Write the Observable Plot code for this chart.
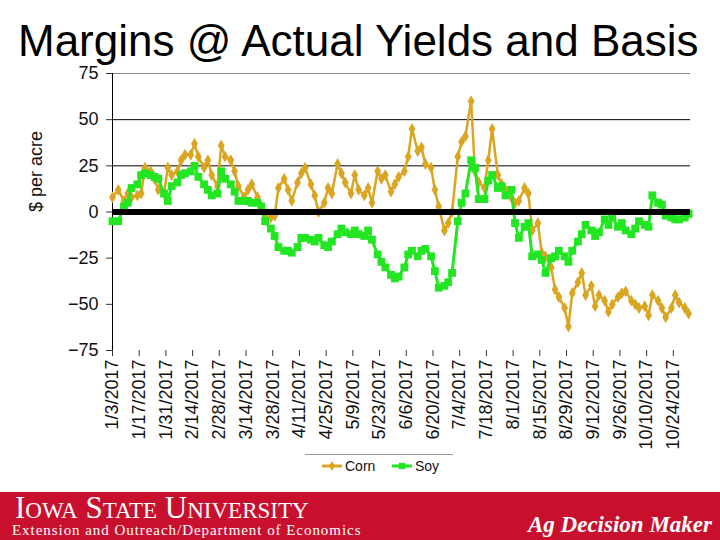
<!DOCTYPE html>
<html>
<head>
<meta charset="utf-8">
<script src="https://cdn.jsdelivr.net/npm/d3@7"></script>
<script src="https://cdn.jsdelivr.net/npm/@observablehq/plot@0.6"></script>
<style>
  html, body { margin: 0; padding: 0; background: #fff; }
  #page { width: 720px; height: 540px; position: relative; overflow: hidden; font-family: "Liberation Sans", Arial, sans-serif; }
  #title { height: 62px; box-sizing: border-box; padding-top: 19px; padding-left: 18px; font-size: 44px; line-height: 43px; color: #000; white-space: nowrap; }
  #chart svg { display: block; }
  #legend { height: 42px; position: relative; }
  #footer { height: 48px; background: #C8102E; position: relative; color: #fff; font-family: "Liberation Serif", "Times New Roman", serif; }
</style>
</head>
<body>
<div id="page">
  <div id="title">Margins @ Actual Yields and Basis</div>
  <div id="chart"></div>
  <div id="legend"></div>
  <div id="footer">
    <div style="position:absolute;left:15px;top:2px;height:27px;white-space:nowrap;line-height:27px;">
      <span style="font-size:31px">I</span><span style="font-size:23px">OWA</span><span style="font-size:31px"> S</span><span style="font-size:23px">TATE</span><span style="font-size:31px"> U</span><span style="font-size:23px">NIVERSITY</span>
    </div>
    <div style="position:absolute;left:12px;top:31px;height:15px;font-size:15px;letter-spacing:0.95px;white-space:nowrap;line-height:15px;">Extension and Outreach/Department of Economics</div>
    <div style="position:absolute;left:528px;top:21px;font-size:23px;font-style:italic;font-weight:bold;white-space:nowrap;line-height:23px;">Ag Decision Maker</div>
  </div>
</div>
<script>
// ---- data ----
const dates = [
  "1/3","1/6","1/9","1/11","1/13","1/16","1/18","1/20","1/23","1/25","1/27","1/30",
  "2/1","2/3","2/6","2/8","2/10","2/13","2/15","2/17","2/20","2/22","2/24","2/27",
  "3/1","3/3","3/6","3/8","3/10","3/13","3/15","3/17","3/20","3/22","3/24","3/27","3/29","3/31",
  "4/3","4/5","4/7","4/10","4/12","4/14","4/17","4/19","4/21","4/24","4/26","4/28",
  "5/1","5/3","5/5","5/8","5/10","5/12","5/15","5/17","5/19","5/22","5/24","5/26","5/29","5/31",
  "6/2","6/5","6/7","6/9","6/12","6/14","6/16","6/19","6/21","6/23","6/26","6/28","6/30",
  "7/3","7/5","7/7","7/10","7/12","7/14","7/17","7/19","7/21","7/24","7/26","7/28","7/31",
  "8/2","8/4","8/7","8/9","8/11","8/14","8/16","8/18","8/21","8/23","8/25","8/28","8/30",
  "9/1","9/4","9/6","9/8","9/11","9/13","9/15","9/18","9/20","9/22","9/25","9/27","9/29",
  "10/2","10/4","10/6","10/9","10/11","10/13","10/16","10/18","10/20","10/23","10/25","10/27","10/30",
  "11/1"
];
const corn = [
  8, 12, 6, 10, 8, 9, 10, 24, 22, 18, 12, 10,
  24, 20, 22, 28, 31, 31, 37, 30, 24, 28, 20, 14,
  36, 30, 28, 22, 14, 8, 12, 15, 8, 3, -2, -3, -2, 13,
  18, 12, 6, 16, 21, 24, 15, 9, 0, 5, 13, 10,
  26, 21, 16, 10, 20, 12, 9, 13, 5, 22, 18, 20, 11, 15,
  19, 22, 30, 45, 33, 35, 26, 24, 12, 3, -10, -6, 0,
  30, 38, 41, 60, 22, 16, 13, 28, 45, 20, 15, 12, 8,
  5, 6, 13, 10, -10, -6, -22, -24, -30, -42, -46, -52, -62,
  -44, -38, -33, -45, -40, -51, -45, -48, -54, -50, -46, -44, -43,
  -48, -50, -52, -51, -56, -45, -48, -52, -57, -52, -45, -49, -52,
  -55
];
const soy = [
  -5, -5, 3, 5, 13, 15, 20, 21, 20, 19, 18, 10,
  6, 14, 16, 20, 21, 22, 25, 19, 15, 12, 9, 10,
  22, 18, 15, 11, 6, 6, 6, 5, 5, 3, -5, -9, -13, -19,
  -21, -21, -22, -19, -14, -14, -15, -16, -14, -18, -19, -16,
  -12, -9, -11, -12, -10, -12, -13, -10, -15, -23, -27, -30, -34, -36,
  -35, -30, -23, -21, -24, -21, -20, -24, -32, -41, -40, -38, -33,
  -5, 5, 10, 28, 24, 7, 7, 17, 20, 13, 14, 9, 12,
  -6, -14, -8, -6, -24, -23, -26, -33, -25, -24, -21, -24, -27,
  -21, -16, -12, -7, -10, -13, -11, -4, -7, -3, -8, -6, -10,
  -12, -9, -5, -7, -8, 9, 5, 4, -2, -3, -4, -4, -3,
  -1
];
const tickLabels = ["1/3/2017","1/17/2017","1/31/2017","2/14/2017","2/28/2017","3/14/2017","3/28/2017",
  "4/11/2017","4/25/2017","5/9/2017","5/23/2017","6/6/2017","6/20/2017","7/4/2017","7/18/2017",
  "8/1/2017","8/15/2017","8/29/2017","9/12/2017","9/26/2017","10/10/2017","10/24/2017"];
const yTicks = [-75, -50, -25, 0, 25, 50, 75];
const seriesNames = ["Corn", "Soy"];
const cornColor = "#DAA520";
const soyColor = "#22E622";

// ---- build ----
function parseDate(s) {
  const p = s.split("/");
  return new Date(Date.UTC(p.length > 2 ? +p[2] : 2017, +p[0] - 1, +p[1]));
}
function fmt(d) {
  return (d.getUTCMonth() + 1) + "/" + d.getUTCDate() + "/" + d.getUTCFullYear();
}
const rows = dates.map((d, i) => ({date: parseDate(d), corn: corn[i], soy: soy[i]}));
const ticks = tickLabels.map(parseDate);
const x0 = parseDate("1/3/2017"), x1 = parseDate("11/2/2017");

const plot = Plot.plot({
  width: 720,
  height: 388,
  marginTop: 11,
  marginBottom: 100,
  marginLeft: 112,
  marginRight: 30,
  style: {fontFamily: "'Liberation Sans', Arial, sans-serif", color: "#111", background: "#fff"},
  x: {type: "utc", domain: [x0, x1]},
  y: {domain: [-75, 75]},
  marks: [
    Plot.ruleY([25, 50], {stroke: "#000", strokeWidth: 1}),
    Plot.ruleY([75], {stroke: "#888", strokeWidth: 1}),
    Plot.axisY(yTicks, {tickSize: 6, tickPadding: 8, fontSize: 18, label: null, stroke: "#333"}),
    Plot.axisX(ticks, {tickFormat: fmt, tickRotate: -90, tickSize: 6, tickPadding: 3, fontSize: 18, label: null, stroke: "#333"}),
    Plot.ruleX([x0], {stroke: "#000", strokeWidth: 1}),
    Plot.text(["$ per acre"], {frameAnchor: "left", dx: -76, rotate: -90, fontSize: 18, fill: "#111"}),
    Plot.line(rows, {x: "date", y: "corn", stroke: cornColor, strokeWidth: 2.5}),
    Plot.dot(rows, {x: "date", y: "corn", symbol: "diamond", fill: cornColor, r: 3.6}),
    Plot.line(rows, {x: "date", y: "soy", stroke: soyColor, strokeWidth: 3}),
    Plot.dot(rows, {x: "date", y: "soy", symbol: "square", fill: soyColor, r: 4.4}),
    Plot.ruleY([0], {stroke: "#000", strokeWidth: 6})
  ]
});
document.getElementById("chart").appendChild(plot);

// ---- legend ----
const lg = d3.select("#legend").append("svg").attr("width", 720).attr("height", 42);
lg.append("line").attr("x1", 305).attr("x2", 453).attr("y1", 4.5).attr("y2", 4.5).attr("stroke", "#999").attr("stroke-width", 1);
const items = [
  {name: seriesNames[0], color: cornColor, x: 322, sym: d3.symbolDiamond, size: 30},
  {name: seriesNames[1], color: soyColor, x: 392, sym: d3.symbolSquare, size: 40}
];
items.forEach(it => {
  const g = lg.append("g");
  g.append("line").attr("x1", it.x).attr("x2", it.x + 20).attr("y1", 16).attr("y2", 16).attr("stroke", it.color).attr("stroke-width", 3);
  g.append("path").attr("d", d3.symbol(it.sym, it.size)()).attr("transform", `translate(${it.x + 10},16)`).attr("fill", it.color);
  g.append("text").attr("x", it.x + 23).attr("y", 21).attr("font-size", 14).attr("font-family", "'Liberation Sans', Arial, sans-serif").attr("fill", "#111").text(it.name);
});
</script>
</body>
</html>
